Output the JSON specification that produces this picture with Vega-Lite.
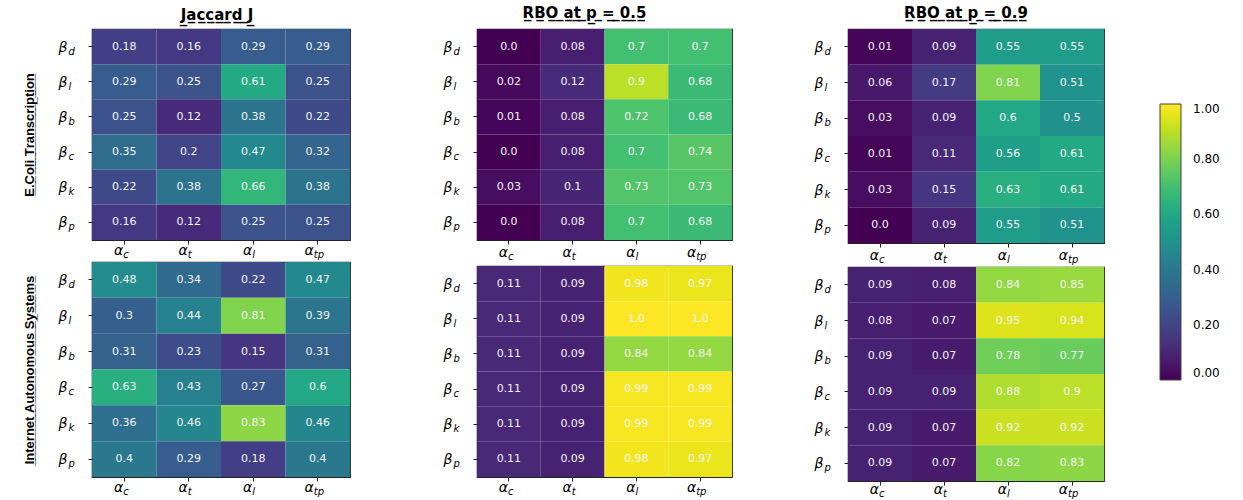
{
 "$schema": "https://vega.github.io/schema/vega-lite/v6.json",
 "padding": {"left": 22, "top": 5, "right": 5, "bottom": 0},
 "background": "white",
 "config": {
  "view": {"stroke": "#222", "strokeWidth": 1.2},
  "axis": {"domain": false, "grid": false, "tickColor": "#222", "tickSize": 4, "labelColor": "#000", "labelFont": "DejaVu Sans", "labelFontStyle": "italic", "labelAngle": 0, "labelOverlap": false}
 },
 "datasets": {
  "ej": [
   {"b":"d","a":"c","v":0.18},{"b":"d","a":"t","v":0.16},{"b":"d","a":"l","v":0.29},{"b":"d","a":"tp","v":0.29},
   {"b":"l","a":"c","v":0.29},{"b":"l","a":"t","v":0.25},{"b":"l","a":"l","v":0.61},{"b":"l","a":"tp","v":0.25},
   {"b":"b","a":"c","v":0.25},{"b":"b","a":"t","v":0.12},{"b":"b","a":"l","v":0.38},{"b":"b","a":"tp","v":0.22},
   {"b":"c","a":"c","v":0.35},{"b":"c","a":"t","v":0.2},{"b":"c","a":"l","v":0.47},{"b":"c","a":"tp","v":0.32},
   {"b":"k","a":"c","v":0.22},{"b":"k","a":"t","v":0.38},{"b":"k","a":"l","v":0.66},{"b":"k","a":"tp","v":0.38},
   {"b":"p","a":"c","v":0.16},{"b":"p","a":"t","v":0.12},{"b":"p","a":"l","v":0.25},{"b":"p","a":"tp","v":0.25}
  ],
  "e5": [
   {"b":"d","a":"c","v":0.0},{"b":"d","a":"t","v":0.08},{"b":"d","a":"l","v":0.7},{"b":"d","a":"tp","v":0.7},
   {"b":"l","a":"c","v":0.02},{"b":"l","a":"t","v":0.12},{"b":"l","a":"l","v":0.9},{"b":"l","a":"tp","v":0.68},
   {"b":"b","a":"c","v":0.01},{"b":"b","a":"t","v":0.08},{"b":"b","a":"l","v":0.72},{"b":"b","a":"tp","v":0.68},
   {"b":"c","a":"c","v":0.0},{"b":"c","a":"t","v":0.08},{"b":"c","a":"l","v":0.7},{"b":"c","a":"tp","v":0.74},
   {"b":"k","a":"c","v":0.03},{"b":"k","a":"t","v":0.1},{"b":"k","a":"l","v":0.73},{"b":"k","a":"tp","v":0.73},
   {"b":"p","a":"c","v":0.0},{"b":"p","a":"t","v":0.08},{"b":"p","a":"l","v":0.7},{"b":"p","a":"tp","v":0.68}
  ],
  "e9": [
   {"b":"d","a":"c","v":0.01},{"b":"d","a":"t","v":0.09},{"b":"d","a":"l","v":0.55},{"b":"d","a":"tp","v":0.55},
   {"b":"l","a":"c","v":0.06},{"b":"l","a":"t","v":0.17},{"b":"l","a":"l","v":0.81},{"b":"l","a":"tp","v":0.51},
   {"b":"b","a":"c","v":0.03},{"b":"b","a":"t","v":0.09},{"b":"b","a":"l","v":0.6},{"b":"b","a":"tp","v":0.5},
   {"b":"c","a":"c","v":0.01},{"b":"c","a":"t","v":0.11},{"b":"c","a":"l","v":0.56},{"b":"c","a":"tp","v":0.61},
   {"b":"k","a":"c","v":0.03},{"b":"k","a":"t","v":0.15},{"b":"k","a":"l","v":0.63},{"b":"k","a":"tp","v":0.61},
   {"b":"p","a":"c","v":0.0},{"b":"p","a":"t","v":0.09},{"b":"p","a":"l","v":0.55},{"b":"p","a":"tp","v":0.51}
  ],
  "ij": [
   {"b":"d","a":"c","v":0.48},{"b":"d","a":"t","v":0.34},{"b":"d","a":"l","v":0.22},{"b":"d","a":"tp","v":0.47},
   {"b":"l","a":"c","v":0.3},{"b":"l","a":"t","v":0.44},{"b":"l","a":"l","v":0.81},{"b":"l","a":"tp","v":0.39},
   {"b":"b","a":"c","v":0.31},{"b":"b","a":"t","v":0.23},{"b":"b","a":"l","v":0.15},{"b":"b","a":"tp","v":0.31},
   {"b":"c","a":"c","v":0.63},{"b":"c","a":"t","v":0.43},{"b":"c","a":"l","v":0.27},{"b":"c","a":"tp","v":0.6},
   {"b":"k","a":"c","v":0.36},{"b":"k","a":"t","v":0.46},{"b":"k","a":"l","v":0.83},{"b":"k","a":"tp","v":0.46},
   {"b":"p","a":"c","v":0.4},{"b":"p","a":"t","v":0.29},{"b":"p","a":"l","v":0.18},{"b":"p","a":"tp","v":0.4}
  ],
  "i5": [
   {"b":"d","a":"c","v":0.11},{"b":"d","a":"t","v":0.09},{"b":"d","a":"l","v":0.98},{"b":"d","a":"tp","v":0.97},
   {"b":"l","a":"c","v":0.11},{"b":"l","a":"t","v":0.09},{"b":"l","a":"l","v":1.0},{"b":"l","a":"tp","v":1.0},
   {"b":"b","a":"c","v":0.11},{"b":"b","a":"t","v":0.09},{"b":"b","a":"l","v":0.84},{"b":"b","a":"tp","v":0.84},
   {"b":"c","a":"c","v":0.11},{"b":"c","a":"t","v":0.09},{"b":"c","a":"l","v":0.99},{"b":"c","a":"tp","v":0.99},
   {"b":"k","a":"c","v":0.11},{"b":"k","a":"t","v":0.09},{"b":"k","a":"l","v":0.99},{"b":"k","a":"tp","v":0.99},
   {"b":"p","a":"c","v":0.11},{"b":"p","a":"t","v":0.09},{"b":"p","a":"l","v":0.98},{"b":"p","a":"tp","v":0.97}
  ],
  "i9": [
   {"b":"d","a":"c","v":0.09},{"b":"d","a":"t","v":0.08},{"b":"d","a":"l","v":0.84},{"b":"d","a":"tp","v":0.85},
   {"b":"l","a":"c","v":0.08},{"b":"l","a":"t","v":0.07},{"b":"l","a":"l","v":0.95},{"b":"l","a":"tp","v":0.94},
   {"b":"b","a":"c","v":0.09},{"b":"b","a":"t","v":0.07},{"b":"b","a":"l","v":0.78},{"b":"b","a":"tp","v":0.77},
   {"b":"c","a":"c","v":0.09},{"b":"c","a":"t","v":0.09},{"b":"c","a":"l","v":0.88},{"b":"c","a":"tp","v":0.9},
   {"b":"k","a":"c","v":0.09},{"b":"k","a":"t","v":0.07},{"b":"k","a":"l","v":0.92},{"b":"k","a":"tp","v":0.92},
   {"b":"p","a":"c","v":0.09},{"b":"p","a":"t","v":0.07},{"b":"p","a":"l","v":0.82},{"b":"p","a":"tp","v":0.83}
  ]
 },
 "resolve": {"scale": {"color": "shared"}, "legend": {"color": "shared"}},
 "bounds": "full",
 "spacing": 91,
 "hconcat": [
  {
   "bounds": "flush", "spacing": 22,
   "resolve": {"scale": {"color": "shared"}, "legend": {"color": "shared"}},
   "vconcat": [
    {
     "width": 258, "height": 211,
     "data": {"name": "ej"},
     "title": {"text": "J\u0332a\u0332c\u0332c\u0332a\u0332r\u0332d\u0332 \u0332J\u0332", "font": "DejaVu Sans", "fontWeight": "bold", "fontSize": 15, "offset": 6, "dx": -4, "color": "#000"},
     "layer": [
      {"mark": "rect", "encoding": {
        "x": {"field": "a", "type": "nominal", "sort": ["c","t","l","tp"], "axis": {"orient": "bottom", "title": null, "labelExpr": "'α'", "labelAlign": "right", "labelBaseline": "alphabetic", "labelFontSize": 14, "labelPadding": 10, "labelOffset": {"condition": {"test": "datum.value == 'tp'", "value": -4}, "value": -1}}},
        "y": {"field": "b", "type": "nominal", "sort": ["d","l","b","c","k","p"], "axis": {"orient": "left", "title": "E\u0332.\u0332C\u0332o\u0332l\u0332i\u0332 \u0332T\u0332r\u0332a\u0332n\u0332s\u0332c\u0332r\u0332i\u0332p\u0332t\u0332i\u0332o\u0332n\u0332", "titleFont": "Liberation Sans", "titleFontWeight": "bold", "titleFontSize": 13, "titleColor": "#000", "titlePadding": 22, "labelExpr": "'β'", "labelAlign": "right", "labelBaseline": "alphabetic", "labelFontSize": 14, "labelPadding": 21, "labelOffset": 5}},
        "color": {"field": "v", "type": "quantitative", "scale": {"scheme": "viridis", "domain": [0, 1]}, "legend": {"orient": "none", "legendX": 1068, "legendY": 75, "title": null, "direction": "vertical", "gradientLength": 276, "gradientThickness": 21, "gradientStrokeColor": "#444", "gradientStrokeWidth": 1, "values": [0, 0.2, 0.4, 0.6, 0.8, 1], "format": ".2f", "labelFont": "DejaVu Sans", "labelFontSize": 12, "labelOffset": 12, "labelColor": "#000", "padding": 0}}
      }},
      {"mark": {"type": "text", "color": "#f4f4f4", "font": "DejaVu Sans", "fontSize": 11}, "encoding": {
        "x": {"field": "a", "type": "nominal", "sort": ["c","t","l","tp"], "axis": {"orient": "bottom", "title": null, "ticks": false, "labelAlign": "left", "labelBaseline": "alphabetic", "labelFontSize": 10, "labelPadding": 17, "labelOffset": {"condition": {"test": "datum.value == 'tp'", "value": -4}, "value": -1}}},
        "y": {"field": "b", "type": "nominal", "sort": ["d","l","b","c","k","p"], "axis": {"orient": "left", "title": null, "ticks": false, "labelAlign": "left", "labelBaseline": "alphabetic", "labelFontSize": 10, "labelPadding": 24, "labelOffset": 8}},
        "text": {"field": "v", "type": "quantitative", "format": ".2~f", "condition": [{"test": "datum.v == 0", "value": "0.0"}, {"test": "datum.v == 1", "value": "1.0"}]}
      }}
     ],
     "resolve": {"axis": {"x": "independent", "y": "independent"}}
    },
    {
     "width": 258, "height": 215,
     "data": {"name": "ij"},
     "layer": [
      {"mark": "rect", "encoding": {
        "x": {"field": "a", "type": "nominal", "sort": ["c","t","l","tp"], "axis": {"orient": "bottom", "title": null, "labelExpr": "'α'", "labelAlign": "right", "labelBaseline": "alphabetic", "labelFontSize": 14, "labelPadding": 10, "labelOffset": {"condition": {"test": "datum.value == 'tp'", "value": -4}, "value": -1}}},
        "y": {"field": "b", "type": "nominal", "sort": ["d","l","b","c","k","p"], "axis": {"orient": "left", "title": "I\u0332n\u0332t\u0332e\u0332r\u0332n\u0332e\u0332t\u0332 \u0332A\u0332u\u0332t\u0332o\u0332n\u0332o\u0332m\u0332o\u0332u\u0332s\u0332 \u0332S\u0332y\u0332s\u0332t\u0332e\u0332m\u0332s\u0332", "titleFont": "Liberation Sans", "titleFontWeight": "bold", "titleFontSize": 13, "titleColor": "#000", "titlePadding": 22, "labelExpr": "'β'", "labelAlign": "right", "labelBaseline": "alphabetic", "labelFontSize": 14, "labelPadding": 21, "labelOffset": 5}},
        "color": {"field": "v", "type": "quantitative", "scale": {"scheme": "viridis", "domain": [0, 1]}, "legend": {"orient": "none", "legendX": 1068, "legendY": 75, "title": null, "direction": "vertical", "gradientLength": 276, "gradientThickness": 21, "gradientStrokeColor": "#444", "gradientStrokeWidth": 1, "values": [0, 0.2, 0.4, 0.6, 0.8, 1], "format": ".2f", "labelFont": "DejaVu Sans", "labelFontSize": 12, "labelOffset": 12, "labelColor": "#000", "padding": 0}}
      }},
      {"mark": {"type": "text", "color": "#f4f4f4", "font": "DejaVu Sans", "fontSize": 11}, "encoding": {
        "x": {"field": "a", "type": "nominal", "sort": ["c","t","l","tp"], "axis": {"orient": "bottom", "title": null, "ticks": false, "labelAlign": "left", "labelBaseline": "alphabetic", "labelFontSize": 10, "labelPadding": 17, "labelOffset": {"condition": {"test": "datum.value == 'tp'", "value": -4}, "value": -1}}},
        "y": {"field": "b", "type": "nominal", "sort": ["d","l","b","c","k","p"], "axis": {"orient": "left", "title": null, "ticks": false, "labelAlign": "left", "labelBaseline": "alphabetic", "labelFontSize": 10, "labelPadding": 24, "labelOffset": 8}},
        "text": {"field": "v", "type": "quantitative", "format": ".2~f", "condition": [{"test": "datum.v == 0", "value": "0.0"}, {"test": "datum.v == 1", "value": "1.0"}]}
      }}
     ],
     "resolve": {"axis": {"x": "independent", "y": "independent"}}
    }
   ]
  },
  {
   "bounds": "full", "spacing": 80,
   "resolve": {"scale": {"color": "shared"}, "legend": {"color": "shared"}},
   "hconcat": [
    {
     "bounds": "flush", "spacing": 26,
     "resolve": {"scale": {"color": "shared"}, "legend": {"color": "shared"}},
     "vconcat": [
      {
       "width": 255, "height": 211,
       "data": {"name": "e5"},
       "title": {"text": "R\u0332B\u0332O\u0332 \u0332a\u0332t\u0332 \u0332p\u0332 \u0332=\u0332 \u03320\u0332.\u03325\u0332", "font": "DejaVu Sans", "fontWeight": "bold", "fontSize": 15, "offset": 8, "dx": -20, "color": "#000"},
       "layer": [
        {"mark": "rect", "encoding": {
          "x": {"field": "a", "type": "nominal", "sort": ["c","t","l","tp"], "axis": {"orient": "bottom", "title": null, "labelExpr": "'α'", "labelAlign": "right", "labelBaseline": "alphabetic", "labelFontSize": 14, "labelPadding": 12, "labelOffset": {"condition": {"test": "datum.value == 'tp'", "value": -4}, "value": -1}}},
          "y": {"field": "b", "type": "nominal", "sort": ["d","l","b","c","k","p"], "axis": {"orient": "left", "title": null, "labelExpr": "'β'", "labelAlign": "right", "labelBaseline": "alphabetic", "labelFontSize": 14, "labelPadding": 21, "labelOffset": 5}},
          "color": {"field": "v", "type": "quantitative", "scale": {"scheme": "viridis", "domain": [0, 1]}, "legend": {"orient": "none", "legendX": 1068, "legendY": 75, "title": null, "direction": "vertical", "gradientLength": 276, "gradientThickness": 21, "gradientStrokeColor": "#444", "gradientStrokeWidth": 1, "values": [0, 0.2, 0.4, 0.6, 0.8, 1], "format": ".2f", "labelFont": "DejaVu Sans", "labelFontSize": 12, "labelOffset": 12, "labelColor": "#000", "padding": 0}}
        }},
        {"mark": {"type": "text", "color": "#f4f4f4", "font": "DejaVu Sans", "fontSize": 11}, "encoding": {
          "x": {"field": "a", "type": "nominal", "sort": ["c","t","l","tp"], "axis": {"orient": "bottom", "title": null, "ticks": false, "labelAlign": "left", "labelBaseline": "alphabetic", "labelFontSize": 10, "labelPadding": 19, "labelOffset": {"condition": {"test": "datum.value == 'tp'", "value": -4}, "value": -1}}},
          "y": {"field": "b", "type": "nominal", "sort": ["d","l","b","c","k","p"], "axis": {"orient": "left", "title": null, "ticks": false, "labelAlign": "left", "labelBaseline": "alphabetic", "labelFontSize": 10, "labelPadding": 24, "labelOffset": 8}},
          "text": {"field": "v", "type": "quantitative", "format": ".2~f", "condition": [{"test": "datum.v == 0", "value": "0.0"}, {"test": "datum.v == 1", "value": "1.0"}]}
        }}
       ],
       "resolve": {"axis": {"x": "independent", "y": "independent"}}
      },
      {
       "width": 255, "height": 211,
       "data": {"name": "i5"},
       "layer": [
        {"mark": "rect", "encoding": {
          "x": {"field": "a", "type": "nominal", "sort": ["c","t","l","tp"], "axis": {"orient": "bottom", "title": null, "labelExpr": "'α'", "labelAlign": "right", "labelBaseline": "alphabetic", "labelFontSize": 14, "labelPadding": 10, "labelOffset": {"condition": {"test": "datum.value == 'tp'", "value": -4}, "value": -1}}},
          "y": {"field": "b", "type": "nominal", "sort": ["d","l","b","c","k","p"], "axis": {"orient": "left", "title": null, "labelExpr": "'β'", "labelAlign": "right", "labelBaseline": "alphabetic", "labelFontSize": 14, "labelPadding": 21, "labelOffset": 5}},
          "color": {"field": "v", "type": "quantitative", "scale": {"scheme": "viridis", "domain": [0, 1]}, "legend": {"orient": "none", "legendX": 1068, "legendY": 75, "title": null, "direction": "vertical", "gradientLength": 276, "gradientThickness": 21, "gradientStrokeColor": "#444", "gradientStrokeWidth": 1, "values": [0, 0.2, 0.4, 0.6, 0.8, 1], "format": ".2f", "labelFont": "DejaVu Sans", "labelFontSize": 12, "labelOffset": 12, "labelColor": "#000", "padding": 0}}
        }},
        {"mark": {"type": "text", "color": "#f4f4f4", "font": "DejaVu Sans", "fontSize": 11}, "encoding": {
          "x": {"field": "a", "type": "nominal", "sort": ["c","t","l","tp"], "axis": {"orient": "bottom", "title": null, "ticks": false, "labelAlign": "left", "labelBaseline": "alphabetic", "labelFontSize": 10, "labelPadding": 17, "labelOffset": {"condition": {"test": "datum.value == 'tp'", "value": -4}, "value": -1}}},
          "y": {"field": "b", "type": "nominal", "sort": ["d","l","b","c","k","p"], "axis": {"orient": "left", "title": null, "ticks": false, "labelAlign": "left", "labelBaseline": "alphabetic", "labelFontSize": 10, "labelPadding": 24, "labelOffset": 8}},
          "text": {"field": "v", "type": "quantitative", "format": ".2~f", "condition": [{"test": "datum.v == 0", "value": "0.0"}, {"test": "datum.v == 1", "value": "1.0"}]}
        }}
       ],
       "resolve": {"axis": {"x": "independent", "y": "independent"}}
      }
     ]
    },
    {
     "bounds": "flush", "spacing": 24,
     "resolve": {"scale": {"color": "shared"}, "legend": {"color": "shared"}},
     "vconcat": [
      {
       "width": 256, "height": 214,
       "data": {"name": "e9"},
       "title": {"text": "R\u0332B\u0332O\u0332 \u0332a\u0332t\u0332 \u0332p\u0332 \u0332=\u0332 \u03320\u0332.\u03329\u0332", "font": "DejaVu Sans", "fontWeight": "bold", "fontSize": 15, "offset": 8, "dx": -10, "color": "#000"},
       "layer": [
        {"mark": "rect", "encoding": {
          "x": {"field": "a", "type": "nominal", "sort": ["c","t","l","tp"], "axis": {"orient": "bottom", "title": null, "labelExpr": "'α'", "labelAlign": "right", "labelBaseline": "alphabetic", "labelFontSize": 14, "labelPadding": 12, "labelOffset": {"condition": {"test": "datum.value == 'tp'", "value": -4}, "value": -1}}},
          "y": {"field": "b", "type": "nominal", "sort": ["d","l","b","c","k","p"], "axis": {"orient": "left", "title": null, "labelExpr": "'β'", "labelAlign": "right", "labelBaseline": "alphabetic", "labelFontSize": 14, "labelPadding": 21, "labelOffset": 5}},
          "color": {"field": "v", "type": "quantitative", "scale": {"scheme": "viridis", "domain": [0, 1]}, "legend": {"orient": "none", "legendX": 1068, "legendY": 75, "title": null, "direction": "vertical", "gradientLength": 276, "gradientThickness": 21, "gradientStrokeColor": "#444", "gradientStrokeWidth": 1, "values": [0, 0.2, 0.4, 0.6, 0.8, 1], "format": ".2f", "labelFont": "DejaVu Sans", "labelFontSize": 12, "labelOffset": 12, "labelColor": "#000", "padding": 0}}
        }},
        {"mark": {"type": "text", "color": "#f4f4f4", "font": "DejaVu Sans", "fontSize": 11}, "encoding": {
          "x": {"field": "a", "type": "nominal", "sort": ["c","t","l","tp"], "axis": {"orient": "bottom", "title": null, "ticks": false, "labelAlign": "left", "labelBaseline": "alphabetic", "labelFontSize": 10, "labelPadding": 19, "labelOffset": {"condition": {"test": "datum.value == 'tp'", "value": -4}, "value": -1}}},
          "y": {"field": "b", "type": "nominal", "sort": ["d","l","b","c","k","p"], "axis": {"orient": "left", "title": null, "ticks": false, "labelAlign": "left", "labelBaseline": "alphabetic", "labelFontSize": 10, "labelPadding": 24, "labelOffset": 8}},
          "text": {"field": "v", "type": "quantitative", "format": ".2~f", "condition": [{"test": "datum.v == 0", "value": "0.0"}, {"test": "datum.v == 1", "value": "1.0"}]}
        }}
       ],
       "resolve": {"axis": {"x": "independent", "y": "independent"}}
      },
      {
       "width": 256, "height": 214,
       "data": {"name": "i9"},
       "layer": [
        {"mark": "rect", "encoding": {
          "x": {"field": "a", "type": "nominal", "sort": ["c","t","l","tp"], "axis": {"orient": "bottom", "title": null, "labelExpr": "'α'", "labelAlign": "right", "labelBaseline": "alphabetic", "labelFontSize": 14, "labelPadding": 8, "labelOffset": {"condition": {"test": "datum.value == 'tp'", "value": -4}, "value": -1}}},
          "y": {"field": "b", "type": "nominal", "sort": ["d","l","b","c","k","p"], "axis": {"orient": "left", "title": null, "labelExpr": "'β'", "labelAlign": "right", "labelBaseline": "alphabetic", "labelFontSize": 14, "labelPadding": 21, "labelOffset": 5}},
          "color": {"field": "v", "type": "quantitative", "scale": {"scheme": "viridis", "domain": [0, 1]}, "legend": {"orient": "none", "legendX": 1068, "legendY": 75, "title": null, "direction": "vertical", "gradientLength": 276, "gradientThickness": 21, "gradientStrokeColor": "#444", "gradientStrokeWidth": 1, "values": [0, 0.2, 0.4, 0.6, 0.8, 1], "format": ".2f", "labelFont": "DejaVu Sans", "labelFontSize": 12, "labelOffset": 12, "labelColor": "#000", "padding": 0}}
        }},
        {"mark": {"type": "text", "color": "#f4f4f4", "font": "DejaVu Sans", "fontSize": 11}, "encoding": {
          "x": {"field": "a", "type": "nominal", "sort": ["c","t","l","tp"], "axis": {"orient": "bottom", "title": null, "ticks": false, "labelAlign": "left", "labelBaseline": "alphabetic", "labelFontSize": 10, "labelPadding": 15, "labelOffset": {"condition": {"test": "datum.value == 'tp'", "value": -4}, "value": -1}}},
          "y": {"field": "b", "type": "nominal", "sort": ["d","l","b","c","k","p"], "axis": {"orient": "left", "title": null, "ticks": false, "labelAlign": "left", "labelBaseline": "alphabetic", "labelFontSize": 10, "labelPadding": 24, "labelOffset": 8}},
          "text": {"field": "v", "type": "quantitative", "format": ".2~f", "condition": [{"test": "datum.v == 0", "value": "0.0"}, {"test": "datum.v == 1", "value": "1.0"}]}
        }}
       ],
       "resolve": {"axis": {"x": "independent", "y": "independent"}}
      }
     ]
    }
   ]
  }
 ]
}
